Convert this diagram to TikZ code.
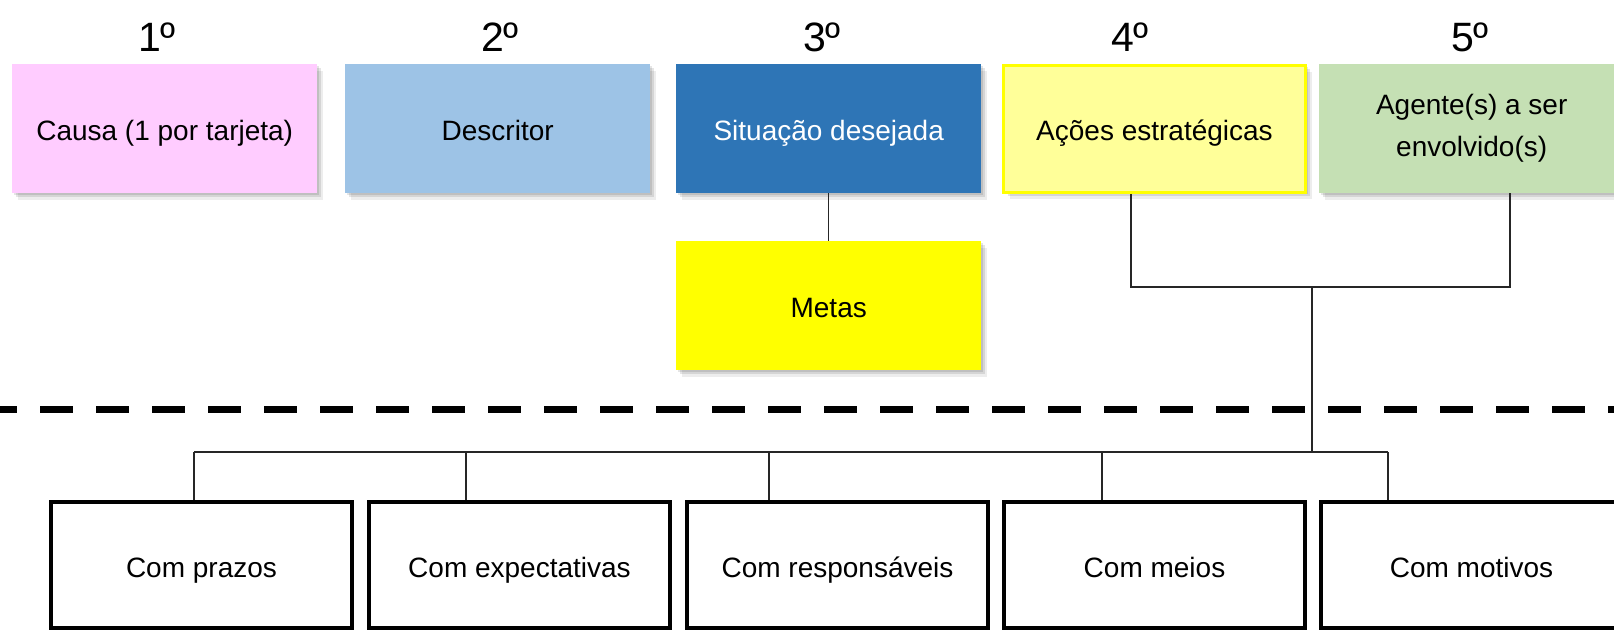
\documentclass[tikz,border=0pt]{standalone}
\usepackage{fontspec}
\setmainfont{Liberation Sans}
\usetikzlibrary{shadows}
\definecolor{cpink}{HTML}{FFCCFF}
\definecolor{clblue}{HTML}{9DC3E6}
\definecolor{cblue}{HTML}{2E75B6}
\definecolor{clyellow}{HTML}{FFFF99}
\definecolor{cyellow}{HTML}{FFFF00}
\definecolor{cgreen}{HTML}{C5E0B4}
\begin{document}
\begin{tikzpicture}[x=1pt,y=-1pt,
  card/.style={anchor=north west, minimum width=305pt, minimum height=129pt,
    inner sep=0pt, align=center, font=\fontsize{28}{42}\selectfont,
    general shadow={fill=black, opacity=0.10, shadow xshift=2pt, shadow yshift=-2pt},
    general shadow={fill=black, opacity=0.10, shadow xshift=4pt, shadow yshift=-4pt},
    general shadow={fill=black, opacity=0.07, shadow xshift=6pt, shadow yshift=-7pt}},
  oneline/.style={text height=28pt, text depth=4pt},
  outbox/.style={anchor=north west, minimum width=301pt, minimum height=126pt,
    draw=black, line width=4pt, fill=white, inner sep=0pt, align=center,
    font=\fontsize{28}{42}\selectfont, text height=28pt, text depth=4pt},
  hdr/.style={font=\fontsize{41}{41}\selectfont, inner sep=0pt},
  conn/.style={line width=1.3pt, draw=black!85},
  sepline/.style={line width=7pt, dash pattern=on 33pt off 23pt, dash phase=16pt}
]
\useasboundingbox (0,0) rectangle (1614,631);
\clip (0,0) rectangle (1614,631);

% connector coordinates
\coordinate (j1) at (1131,287);
\coordinate (j2) at (1510,287);
\coordinate (jm) at (1312,287);
\coordinate (bm) at (1312,452);
\coordinate (d1) at (194,452);
\coordinate (d2) at (466,452);
\coordinate (d3) at (769,452);
\coordinate (d4) at (1102,452);
\coordinate (d5) at (1388,452);
\coordinate (sl) at (0,409);
\coordinate (sr) at (1614,409);

% headers
\node[hdr] (h1) at (157,37) {1º};
\node[hdr] (h2) at (500,37) {2º};
\node[hdr] (h3) at (822,37) {3º};
\node[hdr] (h4) at (1130,37) {4º};
\node[hdr] (h5) at (1470,37) {5º};

% top cards
\node[card, oneline, fill=cpink] (c1) at (12,64) {Causa (1 por tarjeta)};
\node[card, oneline, fill=clblue] (c2) at (345,64) {Descritor};
\node[card, oneline, fill=cblue, text=white] (c3) at (676,64) {Situação desejada};
\node[card, oneline, fill=clyellow, draw=cyellow, line width=3pt, minimum width=302pt, minimum height=127pt] (c4) at (1002,64) {Ações estratégicas};
\node[card, fill=cgreen] (c5) at (1319,64) {Agente(s) a ser\\envolvido(s)};
\node[card, oneline, fill=cyellow] (metas) at (676,241) {Metas};

% bottom boxes
\node[outbox] (b1) at (49,500) {Com prazos};
\node[outbox] (b2) at (367,500) {Com expectativas};
\node[outbox] (b3) at (685,500) {Com responsáveis};
\node[outbox] (b4) at (1002,500) {Com meios};
\node[outbox] (b5) at (1319,500) {Com motivos};

% connectors
\draw[conn] (c3.south) -- (metas.north);
\draw[conn] (c4.south -| j1) -- (j1) -- (j2) -- (c5.south -| j2);
\draw[conn] (jm) -- (bm);
\draw[conn] (d1) -- (d5);
\draw[conn, line width=2.5pt] (d1) -- (d1 |- b1.north);
\draw[conn] (d2) -- (d2 |- b2.north);
\draw[conn] (d3) -- (d3 |- b3.north);
\draw[conn] (d4) -- (d4 |- b4.north);
\draw[conn] (d5) -- (d5 |- b5.north);

% separator
\draw[sepline] (sl) -- (sr);
\end{tikzpicture}
\end{document}
